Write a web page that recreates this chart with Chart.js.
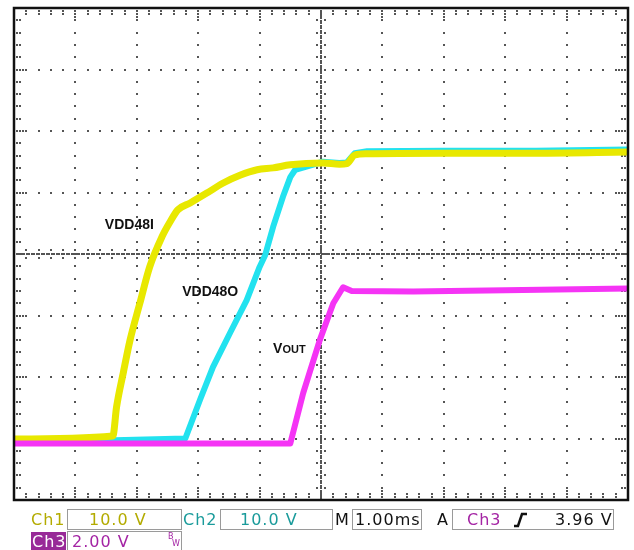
<!DOCTYPE html>
<html>
  <head>
    <meta charset="utf-8">
    <title>Scope capture: VDD48I / VDD48O / VOUT</title>
    <style>
      html, body { margin: 0; padding: 0; background: #fff; }
      #rame { width: 634px; height: 550px; }
    </style>
  </head>
  <body>
    <div id="rame">
      <canvas id="chart" width="634" height="550"></canvas>
    </div>

    <script src="https://cdn.jsdelivr.net/npm/chart.js"></script>
    <script>
      // time in divisions (1 div = 1.00 ms), level in divisions from bottom edge
      const ch1Time = [0, 1.61, 1.67, 1.78, 1.89, 2.05, 2.21, 2.41, 2.54, 2.67, 2.87, 3.14, 3.4, 3.68, 3.96, 4.22, 4.5, 5.03, 5.3, 5.42, 5.55, 5.75, 7.0, 8.5, 10];
      const ch1Level = [0.99, 1.04, 1.51, 2.07, 2.6, 3.2, 3.79, 4.28, 4.52, 4.72, 4.83, 4.99, 5.15, 5.28, 5.37, 5.4, 5.45, 5.48, 5.46, 5.47, 5.61, 5.63, 5.64, 5.64, 5.66];

      const ch2Time = [0, 2.79, 3.03, 3.24, 3.52, 3.79, 4.0, 4.09, 4.22, 4.38, 4.5, 4.58, 5.03, 5.3, 5.42, 5.55, 5.75, 7.0, 8.5, 10];
      const ch2Level = [0.93, 1.0, 1.63, 2.16, 2.72, 3.25, 3.79, 3.98, 4.44, 4.93, 5.25, 5.37, 5.5, 5.48, 5.49, 5.64, 5.67, 5.68, 5.68, 5.7];

      const ch3Time = [0, 4.5, 4.71, 4.98, 5.2, 5.36, 5.5, 6.5, 8, 10];
      const ch3Level = [0.92, 0.92, 1.74, 2.6, 3.2, 3.46, 3.4, 3.39, 3.41, 3.44];

      const traceLabels = ['VDD48I', 'VDD48O', 'VOUT'];

      function pts(xs, ys) {
        let out = [];
        for(let i = 0; i < xs.length; i++) {
          out.push({x: xs[i], y: ys[i]});
        }
        return out;
      }

      // dotted graticule like the scope screen
      const graticule = {
        id: 'graticule',
        beforeDatasetsDraw(chart) {
          const ctx = chart.ctx;
          const xs = chart.scales.x, ys = chart.scales.y;
          const a = chart.chartArea;
          ctx.save();
          ctx.fillStyle = '#555';
          const dot = function(px, py) { ctx.fillRect(Math.round(px) - 1, Math.round(py) - 1, 2, 2); };

          // vertical major lines
          for(let i = 1; i < 10; i++) {
            if(i == 5) continue;
            const px = xs.getPixelForValue(i);
            for(let k = 1; k < 40; k++) dot(px, ys.getPixelForValue(k * 0.2));
          }
          // horizontal major lines
          for(let j = 1; j < 8; j++) {
            if(j == 4) continue;
            const py = ys.getPixelForValue(j);
            for(let k = 1; k < 50; k++) dot(xs.getPixelForValue(k * 0.2), py);
          }
          // centre cross: dense dots + small ticks
          const cx = xs.getPixelForValue(5), cy = ys.getPixelForValue(4);
          for(let p = a.left; p < a.right; p += 2.5) dot(p, cy);
          for(let p = a.top; p < a.bottom; p += 2.5) dot(cx, p);
          for(let k = 1; k < 50; k++) {
            const px = xs.getPixelForValue(k * 0.2);
            dot(px, cy - 4); dot(px, cy + 4);
          }
          for(let k = 1; k < 40; k++) {
            const py = ys.getPixelForValue(k * 0.2);
            dot(cx - 4, py); dot(cx + 4, py);
          }
          // edge ticks
          for(let k = 1; k < 50; k++) {
            const px = xs.getPixelForValue(k * 0.2);
            const big = (k % 5 == 0);
            dot(px, a.top + 3); dot(px, a.top + 6);
            dot(px, a.bottom - 3); dot(px, a.bottom - 6);
            if(big) { dot(px, a.top + 9); dot(px, a.bottom - 9); }
          }
          for(let k = 1; k < 40; k++) {
            const py = ys.getPixelForValue(k * 0.2);
            const big = (k % 5 == 0);
            dot(a.left + 3, py); dot(a.left + 6, py);
            dot(a.right - 3, py); dot(a.right - 6, py);
            if(big) { dot(a.left + 9, py); dot(a.right - 9, py); }
          }
          ctx.restore();
        },
        afterDraw(chart) {
          const ctx = chart.ctx;
          const xs = chart.scales.x, ys = chart.scales.y;
          const a = chart.chartArea;
          ctx.save();
          // frame
          ctx.strokeStyle = '#111';
          ctx.lineWidth = 2.5;
          ctx.strokeRect(a.left, a.top, a.right - a.left, a.bottom - a.top);

          // trace labels
          ctx.fillStyle = '#111';
          ctx.textBaseline = 'middle';
          ctx.font = 'bold 14px "Liberation Sans", Arial, sans-serif';
          ctx.fillText(traceLabels[0], xs.getPixelForValue(1.48), ys.getPixelForValue(4.47));
          ctx.fillText(traceLabels[1], xs.getPixelForValue(2.74), ys.getPixelForValue(3.38));
          const vx = xs.getPixelForValue(4.22), vy = ys.getPixelForValue(2.45);
          ctx.fillText(traceLabels[2].charAt(0), vx, vy);
          const vw = ctx.measureText('V').width;
          ctx.font = 'bold 11px "Liberation Sans", Arial, sans-serif';
          ctx.fillText(traceLabels[2].slice(1), vx + vw, vy + 1);

          // status bar
          ctx.font = '16px "DejaVu Sans", sans-serif';
          ctx.letterSpacing = '1px';
          ctx.textBaseline = 'alphabetic';
          ctx.lineWidth = 1;
          ctx.strokeStyle = '#9a9a9a';
          const box = function(x0, x1, y0, y1) { ctx.strokeRect(x0 + 0.5, y0 + 0.5, x1 - x0, y1 - y0); };
          box(67, 181, 509, 529);
          box(220, 332, 509, 529);
          box(352, 421, 509, 529);
          box(452, 613, 509, 529);
          box(67, 181, 531, 551);

          const row1 = 525, row2 = 547;
          ctx.fillStyle = '#b3ab00';
          ctx.fillText('Ch1', 31, row1);
          ctx.fillText('10.0 V', 89, row1);
          ctx.fillStyle = '#1a9b9b';
          ctx.fillText('Ch2', 183, row1);
          ctx.fillText('10.0 V', 240, row1);
          ctx.fillStyle = '#111';
          ctx.fillText('M', 335, row1);
          ctx.fillText('1.00ms', 355, row1);
          ctx.fillText('A', 437, row1);
          ctx.fillText('3.96 V', 555, row1);
          ctx.fillStyle = '#a424a4';
          ctx.fillText('Ch3', 467, row1);

          // rising edge trigger glyph
          ctx.strokeStyle = '#111';
          ctx.lineWidth = 2.5;
          ctx.beginPath();
          ctx.moveTo(514, 526);
          ctx.lineTo(518, 526);
          ctx.lineTo(522, 514);
          ctx.lineTo(527, 514);
          ctx.stroke();

          // Ch3 row
          ctx.fillStyle = '#982a98';
          ctx.fillRect(31, 532, 35, 18);
          ctx.fillStyle = '#fff';
          ctx.fillText('Ch3', 32, row2);
          ctx.fillStyle = '#a424a4';
          ctx.fillText('2.00 V', 72, row2);
          ctx.letterSpacing = '0px';
          ctx.font = '8px "DejaVu Sans", sans-serif';
          ctx.fillText('B', 168, 539);
          ctx.fillText('W', 172, 546);
          ctx.restore();
        }
      };

      const data = {
        datasets: [{
          label: traceLabels[2],
          data: pts(ch3Time, ch3Level),
          borderColor: '#f534f5',
          borderWidth: 6,
          tension: 0
        }, {
          label: traceLabels[0],
          data: pts(ch1Time, ch1Level),
          borderColor: '#e8e800',
          borderWidth: 7,
          cubicInterpolationMode: 'monotone'
        }, {
          label: traceLabels[1],
          data: pts(ch2Time, ch2Level),
          borderColor: '#22e2ef',
          borderWidth: 6,
          tension: 0
        }]
      };

      const config = {
        type: 'line',
        data: data,
        options: {
          responsive: false,
          animation: false,
          devicePixelRatio: 1,
          layout: { padding: { left: 14, top: 8, right: 6, bottom: 50 } },
          elements: { point: { radius: 0 }, line: { borderCapStyle: 'round', borderJoinStyle: 'round' } },
          plugins: { legend: { display: false }, tooltip: { enabled: false } },
          scales: {
            x: { type: 'linear', min: 0, max: 10, display: false },
            y: { type: 'linear', min: 0, max: 8, display: false }
          }
        },
        plugins: [graticule]
      };

      const myChart = new Chart(document.getElementById('chart'), config);
    </script>
  </body>
</html>
